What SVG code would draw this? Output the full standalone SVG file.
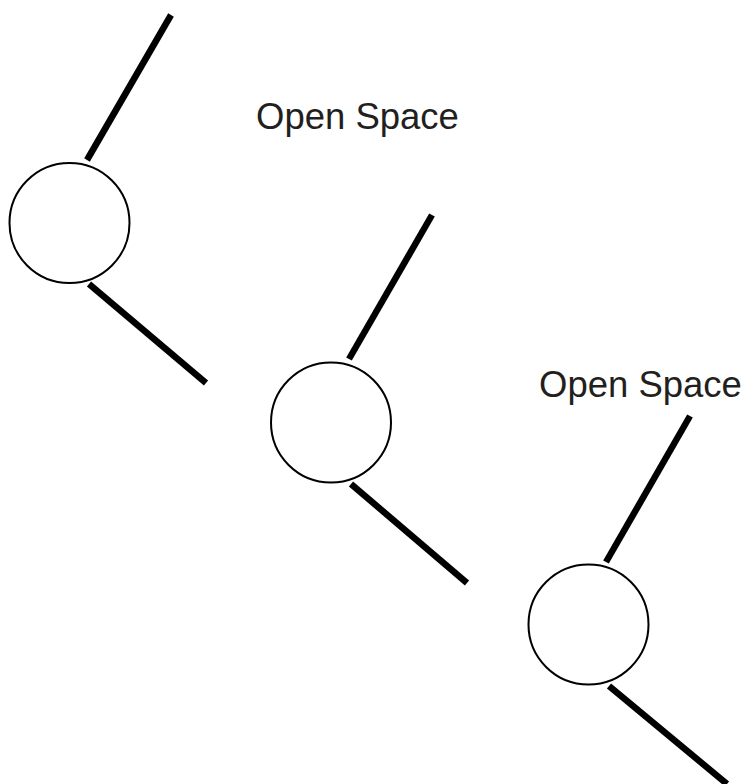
<svg xmlns="http://www.w3.org/2000/svg" width="750" height="784" viewBox="0 0 750 784">
<style>
.node{fill:#fff;stroke:#000;stroke-width:2}
.conn{stroke:#000;stroke-width:6.5;fill:none}
.lbl{font-family:"Liberation Sans",Arial,sans-serif;font-size:36.5px;fill:#231f20}
</style>
<rect width="750" height="784" fill="#fff"/>
<g id="connectors">
<line class="conn" x1="171" y1="15" x2="87" y2="160"/>
<line class="conn" x1="89" y1="284" x2="206" y2="383"/>
<line class="conn" x1="432" y1="215" x2="349" y2="359"/>
<line class="conn" x1="351" y1="484" x2="467" y2="583"/>
<line class="conn" x1="690" y1="416" x2="606" y2="562"/>
<line class="conn" x1="609" y1="686" x2="727" y2="784"/>
</g>
<g id="node1"><circle class="node" cx="69.5" cy="223" r="60"/></g>
<g id="node2"><circle class="node" cx="331" cy="422.5" r="60"/></g>
<g id="node3"><circle class="node" cx="588.5" cy="624.5" r="60"/></g>
<g id="label1"><text class="lbl" x="256" y="129">Open Space</text></g>
<g id="label2"><text class="lbl" x="539" y="397">Open Space</text></g>
</svg>
